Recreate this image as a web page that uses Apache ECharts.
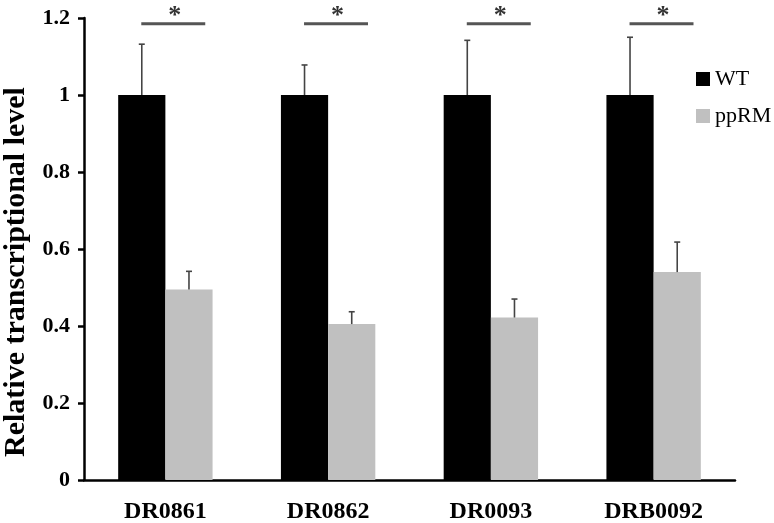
<!DOCTYPE html>
<html><head><meta charset="utf-8">
<script src="https://cdn.jsdelivr.net/npm/echarts@6/dist/echarts.min.js"></script>
<style>html,body{margin:0;padding:0;background:#fff}#c{width:774px;height:523px}</style>
</head><body><div id="c"></div>
<script>
var categories = ['DR0861', 'DR0862', 'DR0093', 'DRB0092'];
var wtValues = [1, 1, 1, 1];
var wtUpper = [1.132, 1.078, 1.142, 1.15];
var ppValues = [0.495, 0.405, 0.422, 0.54];
var ppUpper = [0.542, 0.437, 0.47, 0.618];
var sigLevel = [1.185, 1.185, 1.185, 1.185];
var sigLabel = ['*', '*', '*', '*'];

var serif = '"Liberation Serif", "Times New Roman", serif';
var chart = echarts.init(document.getElementById('c'));

var errData = [];
categories.forEach(function (c, i) {
  errData.push([i, wtValues[i], wtUpper[i], 0]);
  errData.push([i, ppValues[i], ppUpper[i], 1]);
});
var sigData = categories.map(function (c, i) { return [i, sigLevel[i], sigLabel[i]]; });

chart.setOption({
  animation: false,
  grid: { left: 84, right: 39, top: 18, bottom: 43, containLabel: false, outerBoundsMode: 'none' },
  legend: {
    data: ['WT', 'ppRM'], orient: 'vertical', left: 691, top: 63,
    icon: 'rect', itemWidth: 14, itemHeight: 14, itemGap: 15,
    textStyle: { fontFamily: serif, fontSize: 22, color: '#000' }
  },
  xAxis: {
    type: 'category', data: categories,
    axisLine: { lineStyle: { color: '#000', width: 2.5 } },
    axisTick: { length: 9, lineStyle: { color: '#000', width: 2.5 } },
    axisLabel: { fontFamily: serif, fontSize: 24, fontWeight: 'bold', color: '#000', margin: 20 }
  },
  yAxis: {
    type: 'value', min: 0, max: 1.2, interval: 0.2,
    name: 'Relative transcriptional level', nameLocation: 'middle', nameGap: 52,
    nameTextStyle: { fontFamily: serif, fontSize: 30, fontWeight: 'bold', color: '#000', padding: [0, 46, 0, 0] },
    splitLine: { show: false },
    axisLine: { show: true, lineStyle: { color: '#000', width: 2.5 } },
    axisTick: { show: true, length: 6, lineStyle: { color: '#000', width: 2.5 } },
    axisLabel: {
      fontFamily: serif, fontSize: 22, fontWeight: 'bold', color: '#000', margin: 14,
      formatter: function (v) { return String(Math.round(v * 10) / 10); }
    }
  },
  series: [
    { name: 'WT', type: 'bar', data: wtValues, barWidth: '29%', barGap: '0%', itemStyle: { color: '#000' } },
    { name: 'ppRM', type: 'bar', data: ppValues, barWidth: '29%', barGap: '0%', itemStyle: { color: '#c0c0c0' } },
    {
      type: 'custom', data: errData, z: 10,
      renderItem: function (params, api) {
        var i = api.value(0);
        var band = api.size([1, 0])[0];
        var off = band * 0.145 * (api.value(3) === 0 ? -1 : 1);
        var p0 = api.coord([i, api.value(1)]);
        var p1 = api.coord([i, api.value(2)]);
        var x = p0[0] + off;
        var st = { stroke: '#444', lineWidth: 1.6 };
        return { type: 'group', children: [
          { type: 'line', shape: { x1: x, y1: p0[1], x2: x, y2: p1[1] }, style: st },
          { type: 'line', shape: { x1: x - 3, y1: p1[1], x2: x + 3, y2: p1[1] }, style: st }
        ] };
      }
    },
    {
      type: 'custom', data: sigData, z: 10,
      renderItem: function (params, api) {
        var i = api.value(0);
        var band = api.size([1, 0])[0];
        var p = api.coord([i, api.value(1)]);
        var x1 = p[0] - band * 0.148, x2 = p[0] + band * 0.245;
        return { type: 'group', children: [
          { type: 'line', shape: { x1: x1, y1: p[1], x2: x2, y2: p[1] }, style: { stroke: '#555', lineWidth: 3 } },
          { type: 'text', style: { text: sigData[params.dataIndex][2], x: (x1 + x2) / 2 + 1.5, y: p[1] - 7,
            textAlign: 'center', textVerticalAlign: 'middle', fill: '#333',
            font: 'bold 26px ' + serif } }
        ] };
      }
    }
  ]
});
</script></body></html>
